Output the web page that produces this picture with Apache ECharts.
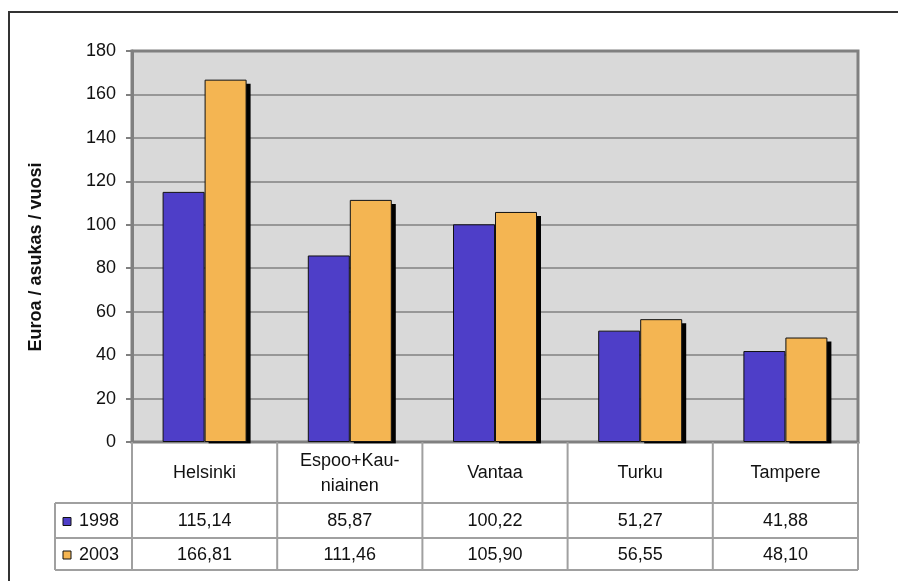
<!DOCTYPE html>
<html><head><meta charset="utf-8">
<script src="https://cdn.jsdelivr.net/npm/echarts@6/dist/echarts.min.js"></script>
<style>html,body{margin:0;padding:0;background:#fff}#c{width:898px;height:581px}</style>
</head><body><div id="c"></div>
<script>
const categories = ['Helsinki', 'Espoo+Kau-\nniainen', 'Vantaa', 'Turku', 'Tampere'];
const seriesNames = ['1998', '2003'];
const values1998 = [115.14, 85.87, 100.22, 51.27, 41.88];
const values2003 = [166.81, 111.46, 105.90, 56.55, 48.10];
const yMin = 0, yMax = 180, yInterval = 20;
const yTitle = 'Euroa / asukas / vuosi';
const colors = ['#4e3ec8', '#f4b552'];

const FONT = '"Liberation Sans", Arial, sans-serif';
const FS = 18;
const BW = 42, SH = 4;
const chart = echarts.init(document.getElementById('c'));
chart.setOption({
  animation: false,
  backgroundColor: '#fff',
  grid: {left: 132, right: 40, top: 51, bottom: 139, show: true, backgroundColor: '#d9d9d9',
         borderColor: '#808080', borderWidth: 3, outerBoundsMode: 'none', containLabel: false},
  xAxis: {type: 'category', data: categories,
    axisLine: {show: true, lineStyle: {color: '#808080', width: 3}},
    axisTick: {show: false}, axisLabel: {show: false}, splitLine: {show: false}},
  yAxis: {type: 'value', min: yMin, max: yMax, interval: yInterval,
    axisLine: {show: true, lineStyle: {color: '#808080', width: 3}},
    axisTick: {show: true, length: 6, lineStyle: {color: '#808080', width: 2}},
    axisLabel: {fontSize: FS, color: '#111', margin: 16, fontFamily: FONT},
    splitLine: {show: true, lineStyle: {color: '#808080', width: 1.5}}},
  series: [
    {name: seriesNames[0], type: 'bar', data: values1998, barWidth: BW, barGap: '0%', z: 3,
     itemStyle: {color: colors[0], borderColor: '#111', borderWidth: 1}},
    {name: seriesNames[1], type: 'bar', data: values2003, barWidth: BW, barGap: '0%', z: 3,
     itemStyle: {color: colors[1], borderColor: '#111', borderWidth: 1}},
    {name: 'shadow', type: 'custom', z: 2, data: values2003.map((v, i) => [i, v]),
     renderItem: (params, api) => {
       const top = api.coord([api.value(0), api.value(1)]);
       const base = api.coord([api.value(0), 0]);
       return {type: 'rect', shape: {x: top[0] + SH, y: top[1] + SH, width: BW, height: base[1] - top[1]},
               style: {fill: '#000'}};
     }}
  ]
});

// data table under the plot, laid out from the grid rectangle
const rect = chart.getModel().getComponent('grid').coordinateSystem.getRect();
const x0 = rect.x, x1 = rect.x + rect.width, yb = rect.y + rect.height;
const n = categories.length, colW = rect.width / n;
const hdrB = yb + 61, r1B = hdrB + 35, r2B = r1B + 32, labL = 55;
const LC = '#a0a0a0', LW = 2;
const g = [];
g.push({type: 'rect', z: 100, shape: {x: x0, y: yb + 1.5, width: rect.width, height: hdrB - yb - 1.5}, style: {fill: '#fff'}});
for (let i = 0; i <= n; i++) {
  const x = x0 + i * colW;
  g.push({type: 'line', z: 101, shape: {x1: x, y1: yb, x2: x, y2: r2B}, style: {stroke: LC, lineWidth: LW}});
}
[hdrB, r1B, r2B].forEach(y => g.push({type: 'line', z: 101, shape: {x1: labL, y1: y, x2: x1, y2: y}, style: {stroke: LC, lineWidth: LW}}));
g.push({type: 'line', z: 101, shape: {x1: labL, y1: hdrB, x2: labL, y2: r2B}, style: {stroke: LC, lineWidth: LW}});
const fmt = v => v.toFixed(2).replace('.', ',');
const rows = [values1998, values2003];
const rowC = [(hdrB + r1B) / 2 + 1, (r1B + r2B) / 2 + 1];
for (let i = 0; i < n; i++) {
  const cx = chart.convertToPixel({xAxisIndex: 0}, i);
  g.push({type: 'text', z: 102, style: {text: categories[i], x: cx, y: (yb + hdrB) / 2 + 1, align: 'center', verticalAlign: 'middle',
    fontSize: FS, fontFamily: FONT, fill: '#111', lineHeight: 25}});
  rows.forEach((arr, r) => g.push({type: 'text', z: 102, style: {text: fmt(arr[i]), x: cx, y: rowC[r], align: 'center', verticalAlign: 'middle',
    fontSize: FS, fontFamily: FONT, fill: '#111'}}));
}
seriesNames.forEach((nm, r) => {
  g.push({type: 'rect', z: 102, shape: {x: 63, y: rowC[r] - 4, width: 8, height: 8}, style: {fill: colors[r], stroke: '#111', lineWidth: 1}});
  g.push({type: 'text', z: 102, style: {text: nm, x: 79, y: rowC[r], align: 'left', verticalAlign: 'middle', fontSize: FS, fontFamily: FONT, fill: '#111'}});
});
g.push({type: 'text', z: 102, x: 36, y: 257, rotation: Math.PI / 2,
  style: {text: yTitle, x: 0, y: 0, align: 'center', verticalAlign: 'middle', fontSize: 18, fontWeight: 'bold', fontFamily: FONT, fill: '#111'}});
g.push({type: 'polyline', z: 103, shape: {points: [[9, 600], [9, 12], [910, 12]]}, style: {stroke: '#333', lineWidth: 2, fill: null}});
chart.setOption({graphic: g});
</script></body></html>
